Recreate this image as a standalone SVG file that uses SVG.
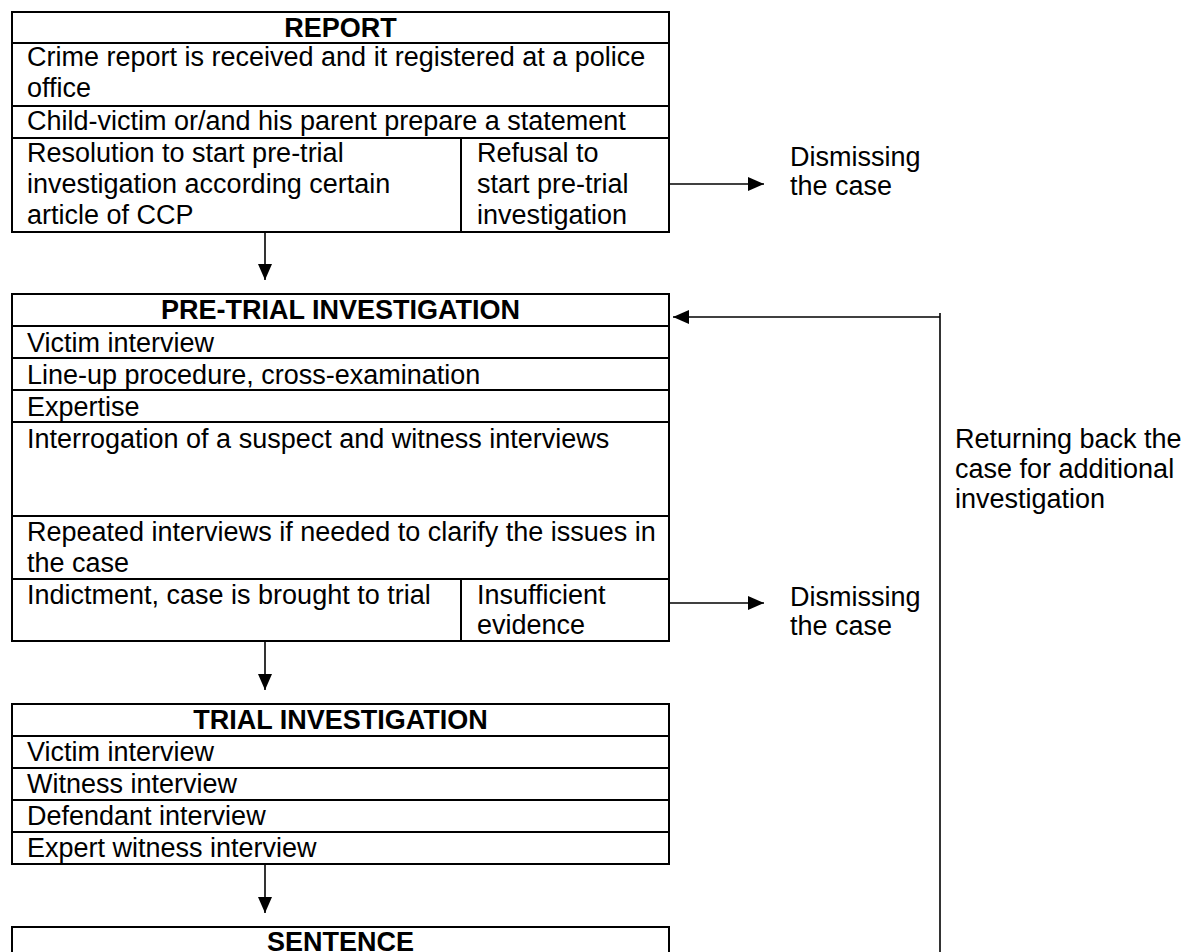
<svg xmlns="http://www.w3.org/2000/svg" width="1184" height="952" viewBox="0 0 1184 952">
<style>
  .box{fill:#fff;stroke:#000;stroke-width:2}
  .div{stroke:#000;stroke-width:2;fill:none}
  .t{font-family:"Liberation Sans",Arial,sans-serif;font-size:27px;fill:#000}
  .h{font-family:"Liberation Sans",Arial,sans-serif;font-size:27px;font-weight:bold;fill:#000;text-anchor:middle}
  .c{stroke:#000;stroke-width:1.6;fill:none}
</style>
<defs>
  <marker id="ah" markerWidth="16" markerHeight="14" refX="16" refY="7" orient="auto" markerUnits="userSpaceOnUse">
    <path d="M0,0 L16,7 L0,14 z" fill="#000"/>
  </marker>
</defs>
<rect width="1184" height="952" fill="#fff"/>

<g id="report">
  <rect class="box" x="12" y="12" width="657" height="220"/>
  <path class="div" d="M12,43 H669 M12,106 H669 M12,138 H669 M461,138 V232"/>
  <text class="h" x="340.5" y="37">REPORT</text>
  <text class="t" x="27" y="66">Crime report is received and it registered at a police</text>
  <text class="t" x="27" y="97">office</text>
  <text class="t" x="27" y="130">Child-victim or/and his parent prepare a statement</text>
  <text class="t" x="27" y="162">Resolution to start pre-trial</text>
  <text class="t" x="27" y="193">investigation according certain</text>
  <text class="t" x="27" y="224">article of CCP</text>
  <text class="t" x="477" y="162">Refusal to</text>
  <text class="t" x="477" y="193">start pre-trial</text>
  <text class="t" x="477" y="224">investigation</text>
</g>

<g id="dismiss1">
  <text class="t" x="790" y="166">Dismissing</text>
  <text class="t" x="790" y="195">the case</text>
</g>

<g id="pretrial">
  <rect class="box" x="12" y="294" width="657" height="347"/>
  <path class="div" d="M12,326 H669 M12,358 H669 M12,390 H669 M12,422 H669 M12,516 H669 M12,579 H669 M461,579 V641"/>
  <text class="h" x="340.5" y="319">PRE-TRIAL INVESTIGATION</text>
  <text class="t" x="27" y="352">Victim interview</text>
  <text class="t" x="27" y="384">Line-up procedure, cross-examination</text>
  <text class="t" x="27" y="416">Expertise</text>
  <text class="t" x="27" y="448">Interrogation of a suspect and witness interviews</text>
  <text class="t" x="27" y="541">Repeated interviews if needed to clarify the issues in</text>
  <text class="t" x="27" y="572">the case</text>
  <text class="t" x="27" y="604">Indictment, case is brought to trial</text>
  <text class="t" x="477" y="604">Insufficient</text>
  <text class="t" x="477" y="634">evidence</text>
</g>

<g id="dismiss2">
  <text class="t" x="790" y="606">Dismissing</text>
  <text class="t" x="790" y="635">the case</text>
</g>

<g id="returning">
  <text class="t" x="955" y="448">Returning back the</text>
  <text class="t" x="955" y="478">case for additional</text>
  <text class="t" x="955" y="508">investigation</text>
</g>

<g id="trial">
  <rect class="box" x="12" y="704" width="657" height="160"/>
  <path class="div" d="M12,736 H669 M12,768 H669 M12,800 H669 M12,832 H669"/>
  <text class="h" x="340.5" y="729">TRIAL INVESTIGATION</text>
  <text class="t" x="27" y="761">Victim interview</text>
  <text class="t" x="27" y="793">Witness interview</text>
  <text class="t" x="27" y="825">Defendant interview</text>
  <text class="t" x="27" y="857">Expert witness interview</text>
</g>

<g id="sentence">
  <rect class="box" x="12" y="927" width="657" height="60"/>
  <text class="h" x="340.5" y="951">SENTENCE</text>
</g>

<g id="connectors">
  <line class="c" x1="669" y1="184" x2="764" y2="184" marker-end="url(#ah)"/>
  <line class="c" x1="265" y1="232" x2="265" y2="280" marker-end="url(#ah)"/>
  <line class="c" x1="669" y1="603" x2="764" y2="603" marker-end="url(#ah)"/>
  <line class="c" x1="265" y1="641" x2="265" y2="690" marker-end="url(#ah)"/>
  <line class="c" x1="265" y1="864" x2="265" y2="913" marker-end="url(#ah)"/>
  <line class="c" x1="940" y1="313" x2="940" y2="952"/>
  <line class="c" x1="940" y1="317" x2="673" y2="317" marker-end="url(#ah)"/>
</g>
</svg>
